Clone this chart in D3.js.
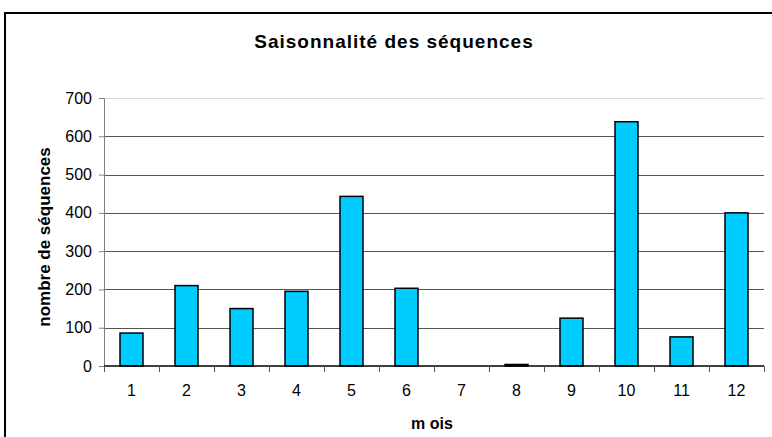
<!DOCTYPE html>
<html>
<head>
<meta charset="utf-8">
<script src="https://cdn.jsdelivr.net/npm/d3@7"></script>
<style>
  body { margin: 0; background: #fff; }
  text { font-family: "Liberation Sans", Arial, sans-serif; }
</style>
</head>
<body>
<script>
// data
var months = ["1", "2", "3", "4", "5", "6", "7", "8", "9", "10", "11", "12"];
var counts = [86, 210, 150, 195, 443, 203, 0, 4, 125, 638, 76, 400];
var yTicks = [0, 100, 200, 300, 400, 500, 600, 700];

var W = 772, H = 437;
var margin = {top: 98, right: 8, bottom: 71, left: 104},
    width = W - margin.left - margin.right,
    height = H - margin.top - margin.bottom;

var root = d3.select("body").append("svg")
    .attr("width", W)
    .attr("height", H);

// chart frame (runs off the right and bottom)
root.append("rect")
    .attr("x", 5).attr("y", 13)
    .attr("width", 820).attr("height", 500)
    .attr("fill", "none")
    .attr("stroke", "#000")
    .attr("stroke-width", 2);

root.append("text")
    .attr("x", 394).attr("y", 48)
    .attr("text-anchor", "middle")
    .attr("font-size", "19px")
    .attr("font-weight", "bold")
    .attr("letter-spacing", "1px")
    .text("Saisonnalité des séquences");

var svg = root.append("g")
    .attr("transform", "translate(" + margin.left + "," + margin.top + ")");

var x = d3.scaleBand()
    .domain(months)
    .range([0, width]);

var y = d3.scaleLinear()
    .domain([0, 700])
    .range([height, 0]);

// gridlines
svg.append("g").selectAll("line")
    .data(yTicks.filter(function(d) { return d > 0; }))
    .enter().append("line")
    .attr("x1", 0).attr("x2", width)
    .attr("y1", function(d) { return Math.round(y(d)) + 0.5; })
    .attr("y2", function(d) { return Math.round(y(d)) + 0.5; })
    .attr("stroke", function(d) { return d === 700 ? "#d8d8d8" : "#555"; })
    .attr("stroke-width", 1);

// y axis
var yAxis = d3.axisLeft(y)
    .tickValues(yTicks)
    .tickSize(5)
    .tickPadding(7);

var gy = svg.append("g").call(yAxis);
gy.select(".domain").attr("stroke", "#808080");
gy.selectAll(".tick line").attr("stroke", "#808080");
gy.selectAll(".tick text")
    .attr("font-size", "16px")
    .attr("font-family", "Liberation Sans, Arial, sans-serif")
    .attr("fill", "#000");

// bars
var bw = 23;
svg.append("g").selectAll("rect")
    .data(counts)
    .enter().append("rect")
    .attr("x", function(d, i) { return x(months[i]) + x.bandwidth() / 2 - bw / 2; })
    .attr("y", function(d) { return y(d); })
    .attr("width", bw)
    .attr("height", function(d) { return height - y(d); })
    .attr("fill", "#00CCFF")
    .attr("stroke", "#000")
    .attr("stroke-width", 1.5);

// x axis with ticks between categories
var gx = svg.append("g")
    .attr("transform", "translate(0," + height + ")");
gx.append("line")
    .attr("x1", 0).attr("x2", width)
    .attr("y1", 0).attr("y2", 0)
    .attr("stroke", "#000")
    .attr("stroke-width", 1.5);
gx.selectAll(".sep")
    .data(months.concat(["end"]))
    .enter().append("line")
    .attr("class", "sep")
    .attr("x1", function(d, i) { return Math.round(i * x.step()) + 0.5; })
    .attr("x2", function(d, i) { return Math.round(i * x.step()) + 0.5; })
    .attr("y1", 0).attr("y2", 6)
    .attr("stroke", "#555");
gx.selectAll(".lbl")
    .data(months)
    .enter().append("text")
    .attr("class", "lbl")
    .attr("x", function(d) { return x(d) + x.bandwidth() / 2; })
    .attr("y", 30)
    .attr("text-anchor", "middle")
    .attr("font-size", "16px")
    .text(function(d) { return d; });

// axis titles
root.append("text")
    .attr("x", 432).attr("y", 429)
    .attr("text-anchor", "middle")
    .attr("font-size", "16px")
    .attr("font-weight", "bold")
    .text("m ois");

root.append("text")
    .attr("transform", "translate(50,237) rotate(-90)")
    .attr("text-anchor", "middle")
    .attr("font-size", "17px")
    .attr("font-weight", "bold")
    .text("nombre de séquences");
</script>
</body>
</html>
